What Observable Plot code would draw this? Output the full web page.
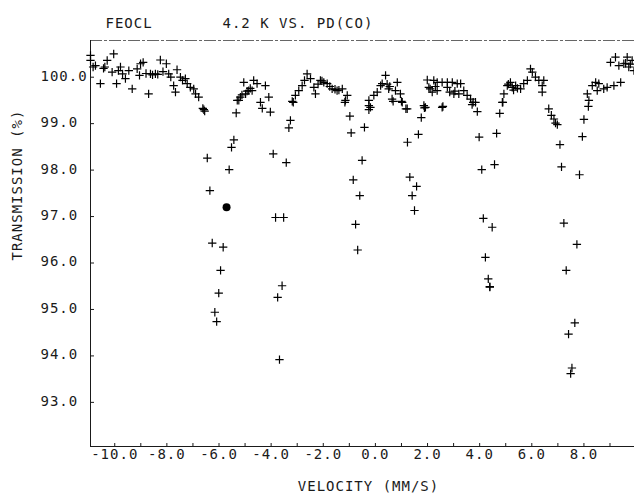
<!DOCTYPE html>
<html><head><meta charset="utf-8">
<script src="https://cdn.jsdelivr.net/npm/d3@7"></script>
<script src="https://cdn.jsdelivr.net/npm/@observablehq/plot@0.6"></script>
<style>
body{margin:0;background:#fff}
#chart{width:634px;height:497px}
</style>
</head><body><div id="chart"></div>
<script>
// Mössbauer spectrum of FeOCl at 4.2 K
const velocity = [
 -10.93,-10.93,-10.83,-10.74,-10.55,-10.43,-10.38,-10.29,-10.10,-10.04,
 -9.93,-9.86,-9.78,-9.70,-9.59,-9.46,-9.33,-9.14,-9.05,-9.01,
 -8.91,-8.80,-8.70,-8.63,-8.55,-8.44,-8.35,-8.25,-8.15,-8.02,
 -7.93,-7.85,-7.74,-7.67,-7.61,-7.48,-7.40,-7.29,-7.22,-7.10,
 -6.97,-6.90,-6.78,-6.62,-6.58,-6.55,-6.45,-6.35,-6.26,-6.16,
 -6.09,-6.01,-5.94,-5.84,-5.61,-5.52,-5.43,-5.34,-5.30,-5.24,
 -5.18,-5.12,-5.05,-4.98,-4.92,-4.86,-4.80,-4.73,-4.67,-4.54,
 -4.41,-4.34,-4.22,-4.09,-4.03,-3.92,-3.83,-3.75,-3.68,-3.58,
 -3.52,-3.42,-3.32,-3.26,-3.19,-3.15,-3.07,-2.94,-2.81,-2.72,
 -2.62,-2.49,-2.36,-2.30,-2.20,-2.11,-2.05,-1.98,-1.85,-1.75,
 -1.66,-1.55,-1.47,-1.40,-1.27,-1.17,-1.15,-1.08,-0.98,-0.93,
 -0.85,-0.76,-0.68,-0.60,-0.51,-0.42,-0.25,-0.25,-0.25,-0.19,
 -0.06,0.07,0.20,0.26,0.39,0.45,0.51,0.55,0.64,0.68,
 0.77,0.84,0.96,1.00,1.03,1.17,1.22,1.23,1.32,1.41,
 1.50,1.58,1.65,1.76,1.86,1.88,1.92,1.99,2.05,2.10,
 2.18,2.24,2.30,2.37,2.37,2.56,2.56,2.59,2.76,2.76,
 2.85,2.95,3.01,3.05,3.14,3.20,3.27,3.39,3.52,3.65,
 3.71,3.75,3.84,3.91,3.98,4.08,4.14,4.22,4.33,4.39,
 4.39,4.48,4.57,4.65,4.77,4.87,4.89,4.93,5.06,5.10,
 5.18,5.25,5.30,5.38,5.45,5.57,5.69,5.83,5.95,6.02,
 6.14,6.27,6.40,6.40,6.46,6.65,6.75,6.85,6.91,6.98,
 7.08,7.14,7.23,7.32,7.41,7.49,7.54,7.65,7.73,7.83,
 7.94,8.00,8.13,8.17,8.19,8.32,8.45,8.51,8.57,8.76,
 8.89,9.02,9.15,9.21,9.34,9.41,9.53,9.60,9.66,9.72,
 9.78,9.85,9.92
];
const transmission = [
 100.47,100.36,100.22,100.25,99.86,100.19,100.22,100.36,100.11,100.50,
 99.86,100.14,100.22,100.07,99.97,100.14,99.75,100.18,100.04,100.29,
 100.32,100.08,99.64,100.07,100.05,100.07,100.06,100.37,100.12,100.29,
 100.07,100.00,99.82,99.68,100.16,100.00,99.93,99.97,99.86,99.78,
 99.75,99.64,99.57,99.33,99.30,99.27,98.26,97.56,96.43,94.94,
 94.74,95.35,95.84,96.34,98.01,98.49,98.65,99.23,99.50,99.50,
 99.57,99.62,99.89,99.64,99.70,99.71,99.76,99.71,99.93,99.86,
 99.46,99.33,99.82,99.57,99.25,98.35,96.98,95.26,93.92,95.51,
 96.98,98.16,98.91,99.07,99.48,99.46,99.61,99.71,99.82,99.93,
 100.07,99.97,99.78,99.64,99.85,99.93,99.92,99.89,99.86,99.80,
 99.75,99.74,99.71,99.72,99.75,99.46,99.50,99.61,99.16,98.80,
 97.79,96.83,96.28,97.45,98.21,98.92,99.50,99.39,99.30,99.35,
 99.61,99.68,99.82,99.86,100.04,99.85,99.75,99.80,99.53,99.48,
 99.71,99.89,99.64,99.48,99.46,99.32,99.32,98.60,97.85,97.45,
 97.13,97.65,98.77,99.13,99.39,99.34,99.35,99.94,99.78,99.75,
 99.68,99.93,99.80,99.89,99.71,99.89,99.35,99.37,99.89,99.78,
 99.68,99.89,99.64,99.70,99.86,99.64,99.86,99.71,99.61,99.53,
 99.41,99.46,99.46,99.26,98.71,98.01,96.96,96.12,95.66,95.48,
 95.49,96.77,98.12,98.79,99.22,99.46,99.46,99.64,99.82,99.85,
 99.89,99.78,99.72,99.82,99.76,99.75,99.86,99.93,100.18,100.11,
 100.00,99.93,99.82,99.68,99.93,99.32,99.18,99.10,99.01,98.98,
 98.55,98.07,96.86,95.84,94.47,93.62,93.74,94.71,96.40,97.90,
 98.72,99.09,99.64,99.37,99.50,99.82,99.89,99.71,99.86,99.75,
 99.78,100.32,99.82,100.43,100.25,99.89,100.29,100.30,100.43,100.22,
 100.28,100.36,100.14
];
// single filled marker
const markerVelocity = [-5.71];
const markerTransmission = [97.20];

const yTickValues = [93, 94, 95, 96, 97, 98, 99, 100];
const xTickValues = [-10,-9,-8,-7,-6,-5,-4,-3,-2,-1,0,1,2,3,4,5,6,7,8,9];
const xLabelValues = [-10,-8,-6,-4,-2,0,2,4,6,8];
const xDomain = [-10.93, 9.94];
const yDomain = [92.05, 100.79];

const titleText = "FEOCL";
const subtitleText = "4.2 K VS. PD(CO)";
const xTitle = "VELOCITY (MM/S)";
const yTitle = "TRANSMISSION (%)";

const points = velocity.map((v, i) => ({v, t: transmission[i]}));
const markers = markerVelocity.map((v, i) => ({v, t: markerTransmission[i]}));

const W = 634, H = 497, mL = 90, mR = 0, mT = 40, mB = 51;
const ink = "#1a1a1a";

const chart = Plot.plot({
  width: W, height: H,
  marginLeft: mL, marginRight: mR, marginTop: mT, marginBottom: mB,
  style: "font-family: 'DejaVu Sans Mono', monospace; font-size: 14px; letter-spacing: 1px; background: #fff; color: #1a1a1a;",
  x: {domain: xDomain, axis: null},
  y: {domain: yDomain, axis: null},
  marks: [
    Plot.ruleY([yDomain[1]], {stroke: "#666", strokeWidth: 1, strokeDasharray: "12,2,3,2"}),
    Plot.ruleX([xDomain[0]], {stroke: ink, strokeWidth: 1}),
    Plot.ruleY([yDomain[0]], {stroke: ink, strokeWidth: 1}),
    Plot.tickX(xTickValues, {x: d => d, insetTop: (H - mT - mB) - 3, stroke: ink}),
    Plot.tickY(yTickValues, {y: d => d, insetRight: (W - mL - mR) - 4, stroke: ink}),
    Plot.text(yTickValues, {y: d => d, text: d => d.toFixed(1), frameAnchor: "left", textAnchor: "start", dx: -50, dy: -1, fill: ink}),
    Plot.text(xLabelValues, {x: d => d, text: d => d.toFixed(1), frameAnchor: "bottom", dy: 12, fill: ink}),
    Plot.dot(points, {x: "v", y: "t", symbol: "plus", r: 2.8, stroke: "#000", fill: "none", strokeWidth: 1.2}),
    Plot.dot(markers, {x: "v", y: "t", r: 4, fill: "#000", stroke: "none"}),
    Plot.text([titleText], {text: d => d, frameAnchor: "top-left", textAnchor: "start", dx: 15, dy: -22, fill: ink}),
    Plot.text([subtitleText], {text: d => d, frameAnchor: "top-left", textAnchor: "start", dx: 132, dy: -22, fill: ink}),
    Plot.text([xTitle], {text: d => d, frameAnchor: "bottom", dx: 6, dy: 44, fill: ink}),
    Plot.text([yTitle], {text: d => d, frameAnchor: "left", rotate: -90, dx: -72.5, dy: 17, fill: ink})
  ]
});
document.getElementById("chart").appendChild(chart);
</script>
</body></html>
